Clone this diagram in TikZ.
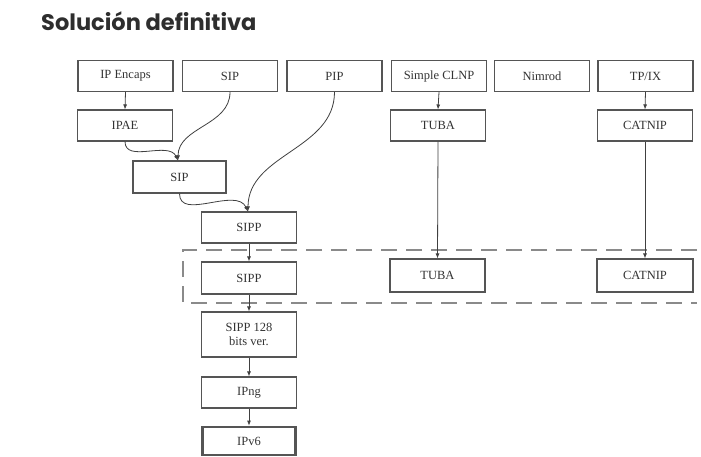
\documentclass[tikz,border=0pt]{standalone}
\usepackage{fontspec}
\setmainfont{Liberation Serif}
\newfontfamily\titlefont{Poppins}[UprightFont=* Bold]
\usetikzlibrary{arrows.meta}
\definecolor{boxline}{HTML}{555555}
\definecolor{txt}{HTML}{333333}
\definecolor{dashgray}{HTML}{8A8A8A}
\definecolor{titlecol}{HTML}{2E2E2E}
\begin{document}
\begin{tikzpicture}[x=1pt,y=1pt,
  box/.style={draw=boxline,line width=1.1pt,fill=white,minimum width=95pt,minimum height=31pt,
    inner sep=1pt,font=\fontsize{12.5}{13.5}\selectfont,text=txt,align=center},
  conn/.style={draw=black!75,line width=0.8pt,-{Latex[length=5pt,width=4pt]}},
  groupline/.style={draw=dashgray,line width=1.6pt,dash pattern=on 16pt off 9pt}]
\useasboundingbox (0,0) rectangle (701,-456);
\fill[white] (0,0) rectangle (701,-456);
\node[anchor=base west,font=\titlefont\fontsize{22.5}{24}\selectfont,text=titlecol,inner sep=0pt] (title) at (41,-30) {Solución definitiva};
% row 1
\node[box] (ipencaps) at (125.5,-76) {IP Encaps};
\node[box] (sipA) at (230,-76) {SIP};
\node[box] (pip) at (334.5,-76) {PIP};
\node[box] (clnp) at (439,-76) {Simple CLNP};
\node[box] (nimrod) at (542,-76) {Nimrod};
\node[box] (tpix) at (645.5,-76) {TP/IX};
% row 2
\node[box] (ipae) at (125,-125.5) {IPAE};
\node[box] (tuba1) at (438,-125.5) {TUBA};
\node[box] (catnip1) at (645,-125.5) {CATNIP};
% chain
\node[box,minimum width=93pt,minimum height=32pt] (sipB) at (179.5,-177) {SIP};
\node[box] (sipp1) at (249,-227.5) {SIPP};
\node[box,minimum height=32pt] (sipp2) at (249,-278) {SIPP};
\node[box,minimum height=45pt] (sipp128) at (249,-334.5) {SIPP 128\\bits ver.};
\node[box] (ipng) at (249,-392.5) {IPng};
\node[box,line width=2.8pt,minimum width=93pt,minimum height=28pt] (ipv6) at (249,-441) {IPv6};
\node[box,minimum height=33pt] (tuba2) at (437.5,-275.5) {TUBA};
\node[box,minimum width=96pt,minimum height=33pt] (catnip2) at (645,-275.5) {CATNIP};
% dashed group bracket
\coordinate (gTR) at (697,-250);
\coordinate (gTL) at (183,-250);
\coordinate (gBL) at (183,-303);
\coordinate (gBR) at (697,-303);
\draw[groupline] (gTR) -- (gTL) -- (gBL) -- (gBR);
% connectors
\draw[conn] (ipencaps.south) -- (ipae.north);
\draw[conn] (sipA.south) to[out=-90,in=90] ([xshift=-1.5pt]sipB.north);
\draw[conn] (ipae.south) to[out=-90,in=115] ([xshift=-1.5pt]sipB.north);
\draw[conn] (sipB.south) to[out=-90,in=115] ([xshift=-1pt]sipp1.north);
\draw[conn] (pip.south) to[out=-90,in=90] ([xshift=-1pt]sipp1.north);
\draw[conn] (sipp1.south) -- (sipp2.north);
\draw[conn] (sipp2.south) -- (sipp128.north);
\draw[conn] (sipp128.south) -- (ipng.north);
\draw[conn] (ipng.south) -- (ipv6.north);
\draw[conn] (clnp.south) -- (tuba1.north);
\draw[conn] (tuba1.south) -- (tuba2.north);
\draw[conn] (tpix.south) -- (catnip1.north);
\draw[conn] (catnip1.south) -- (catnip2.north);
\end{tikzpicture}
\end{document}
